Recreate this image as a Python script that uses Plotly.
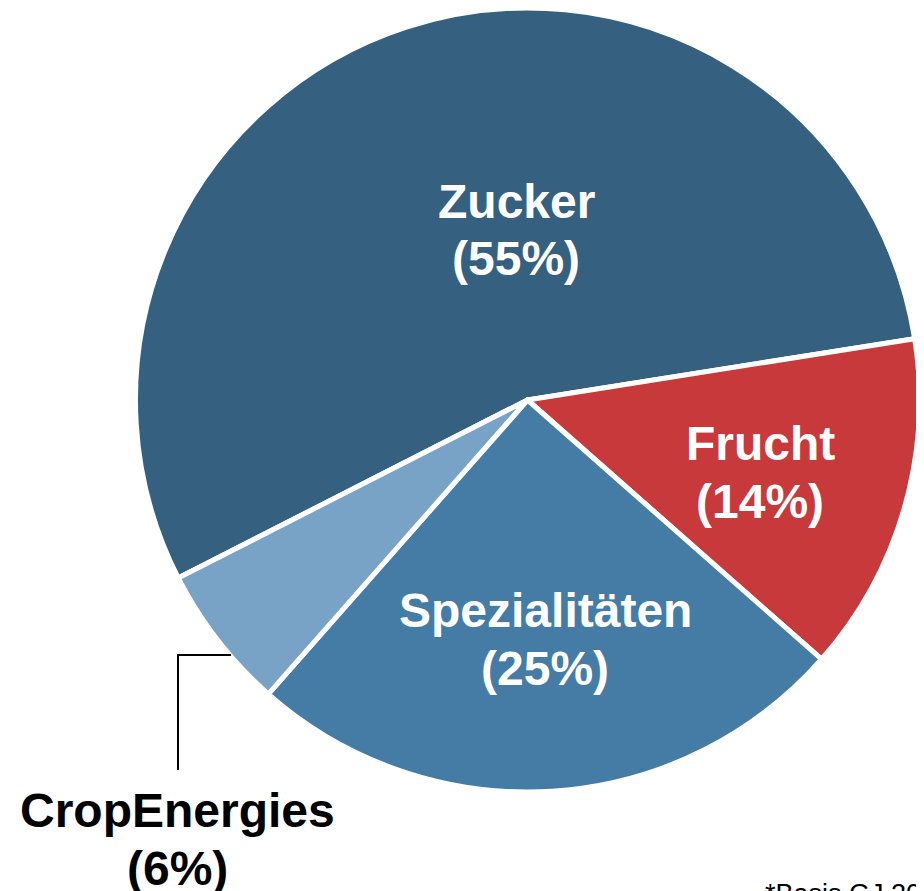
import plotly.graph_objects as go

W, H = 924, 891
OFF = 8  # page body margin shifts the figure by 8px

segments = ["Zucker", "Frucht", "Spezialitäten", "CropEnergies"]
shares = [55, 14, 25, 6]
colors = ["#36607f", "#c8393b", "#457ca6", "#78a2c6"]
footnote = "*Basis GJ 2022/23"

# label centres in screenshot pixels (x, y of first line, from top)
label_pos = [(516, 201), (760, 443), (545, 610), (177, 810)]
label_col = ["white", "white", "white", "black"]
LINE = 58


def px(x, y):
    return (x - OFF) / W, 1 - (y - OFF) / H


cx, cy, r = 527.5 - OFF, 400 - OFF, 392
fig = go.Figure(go.Pie(
    labels=segments, values=shares, sort=False, direction="clockwise",
    rotation=243, textinfo="none", hoverinfo="label+percent",
    marker=dict(colors=colors, line=dict(color="white", width=5)),
    domain=dict(x=[(cx - r) / W, min(1, (cx + r) / W)],
                y=[(H - cy - r) / H, min(1, (H - cy + r) / H)]),
))

font = dict(family="Arial, Liberation Sans", size=48)
for name, val, (x, y), col in zip(segments, shares, label_pos, label_col):
    for i, line in enumerate([name, f"({val}%)"]):
        ax, ay = px(x, y + i * LINE)
        fig.add_annotation(x=ax, y=ay, xref="paper", yref="paper", showarrow=False,
                           xanchor="center", yanchor="middle",
                           text=f"<b>{line}</b>", font=dict(font, color=col))

# leader line for CropEnergies
x0, y0 = px(231, 655)
x1, y1 = px(178, 655)
x2, y2 = px(178, 770)
fig.add_shape(type="path", xref="paper", yref="paper",
              path=f"M {x0} {y0} L {x1} {y1} L {x2} {y2}",
              line=dict(color="black", width=2))

fx, fy = px(763, 877)
fig.add_annotation(x=fx, y=fy, xref="paper", yref="paper", showarrow=False,
                   xanchor="left", yanchor="top", text=footnote,
                   font=dict(family="Arial, Liberation Sans", size=27, color="black"))

fig.update_layout(width=W, height=H, margin=dict(l=0, r=0, t=0, b=0),
                  showlegend=False, paper_bgcolor="white")
fig.write_html("out.html")
